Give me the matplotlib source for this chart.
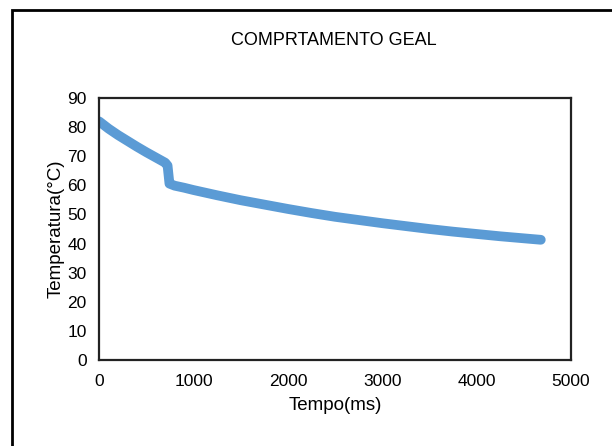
import matplotlib.pyplot as plt
from matplotlib.patches import Rectangle

plt.rcParams['font.family'] = ['Liberation Sans', 'DejaVu Sans']

# values
tempo_ms = [0, 100, 200, 300, 400, 500, 600, 700, 725, 745, 800, 900, 1000, 1250, 1500,
            1750, 2000, 2250, 2500, 2750, 3000, 3250, 3500, 3750, 4000, 4250, 4500, 4680]
temperatura = [82.0, 79.5, 77.3, 75.3, 73.3, 71.4, 69.6, 67.8, 66.8, 60.6, 59.9, 59.2, 58.4,
               56.6, 54.9, 53.4, 51.9, 50.5, 49.2, 48.1, 47.0, 46.0, 45.0, 44.1, 43.3,
               42.5, 41.8, 41.3]

fig = plt.figure(figsize=(6.12, 4.46), dpi=100)
ax = fig.add_axes([0.162, 0.193, 0.771, 0.587])

ax.plot(tempo_ms, temperatura, color='#5B9BD5', lw=7, solid_capstyle='round',
        solid_joinstyle='round')

ax.set_xlim(0, 5000)
ax.set_ylim(0, 90)
ax.set_xticks(range(0, 5001, 1000))
ax.set_yticks(range(0, 91, 10))
ax.tick_params(length=0, labelsize=12.5)
ax.tick_params(axis='x', pad=10)
ax.tick_params(axis='y', pad=9)
for s in ax.spines.values():
    s.set_color('#222222')
    s.set_linewidth(1.6)

ax.set_xlabel('Tempo(ms)', fontsize=13.5, labelpad=6)
ax.set_ylabel('Temperatura(°C)', fontsize=13.5, labelpad=2)
fig.text(0.545, 0.91, 'COMPRTAMENTO GEAL', ha='center', va='center', fontsize=13)

# outer frame around the chart
fig.patches.append(Rectangle((12 / 612, -0.05), 1.0, 1 - 10 / 446 + 0.05,
                             transform=fig.transFigure, fill=False,
                             edgecolor='black', lw=2))

fig.savefig('out.png', dpi=100)
